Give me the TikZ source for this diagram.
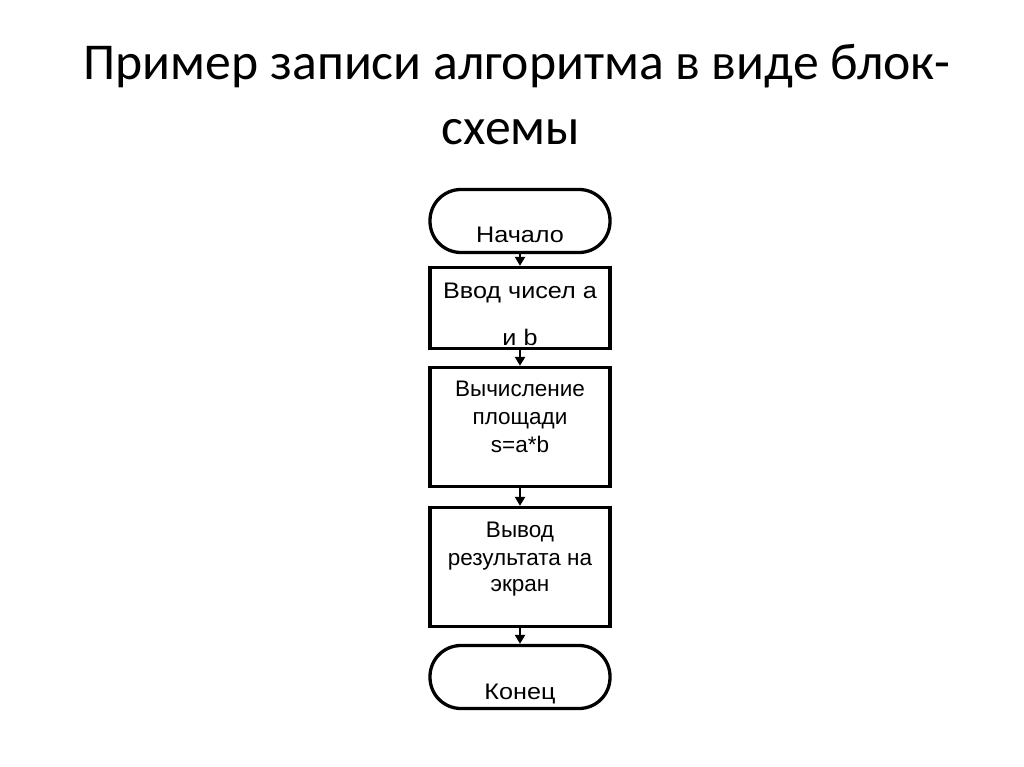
\documentclass[tikz,border=0pt]{standalone}
\usepackage{fontspec}
\setmainfont{Liberation Sans}
\newfontfamily\titlefont{Carlito}
\newfontfamily\widefont[FakeStretch=1.12]{Liberation Sans}
\usetikzlibrary{arrows.meta}
\begin{document}
\begin{tikzpicture}[x=1pt,y=-1pt,
  blk/.style={draw,line width=3.3pt,minimum width=180pt,inner sep=0pt},
  term/.style={blk,rounded corners=31pt,minimum height=63pt},
  proc/.style={blk},
  txt/.style={font=\fontsize{22.5}{27}\selectfont,anchor=base,inner sep=0pt},
  wtxt/.style={font=\widefont\fontsize{22.5}{27}\selectfont,anchor=base,inner sep=0pt},
  arr/.style={line width=2.4pt,-{Triangle[length=9pt,width=10pt]}},
  ttl/.style={font=\titlefont\fontsize{51.7}{65}\selectfont,anchor=base,inner sep=0pt}]
\useasboundingbox (0,0) rectangle (1024,767);
\node[ttl] (title1) at (517,80) {Пример записи алгоритма в виде блок-};
\node[ttl] (title2) at (511,145) {схемы};
\node[term] (start) at (520,221) {};
\node[wtxt] (startt) at (520,243) {Начало};
\node[proc,minimum height=81pt] (b1) at (520,308) {};
\node[wtxt] (b1a) at (520,298) {Ввод чисел а};
\node[wtxt] (b1b) at (520,345) {и b};
\node[proc,minimum height=119pt] (b2) at (520,427) {};
\node[txt] (b2a) at (520,396) {Вычисление};
\node[txt] (b2b) at (520,424) {площади};
\node[txt] (b2c) at (520,452) {s=a*b};
\node[proc,minimum height=119pt] (b3) at (520,567) {};
\node[txt] (b3a) at (520,537) {Вывод};
\node[txt] (b3b) at (520,565) {результата на};
\node[txt] (b3c) at (520,591) {экран};
\node[term] (stop) at (520,677) {};
\node[wtxt] (stopt) at (520,699) {Конец};
\draw[arr] (start.south) -- (b1.north);
\draw[arr] (b1.south) -- (b2.north);
\draw[arr] (b2.south) -- (b3.north);
\draw[arr] (b3.south) -- (stop.north);
\end{tikzpicture}
\end{document}
